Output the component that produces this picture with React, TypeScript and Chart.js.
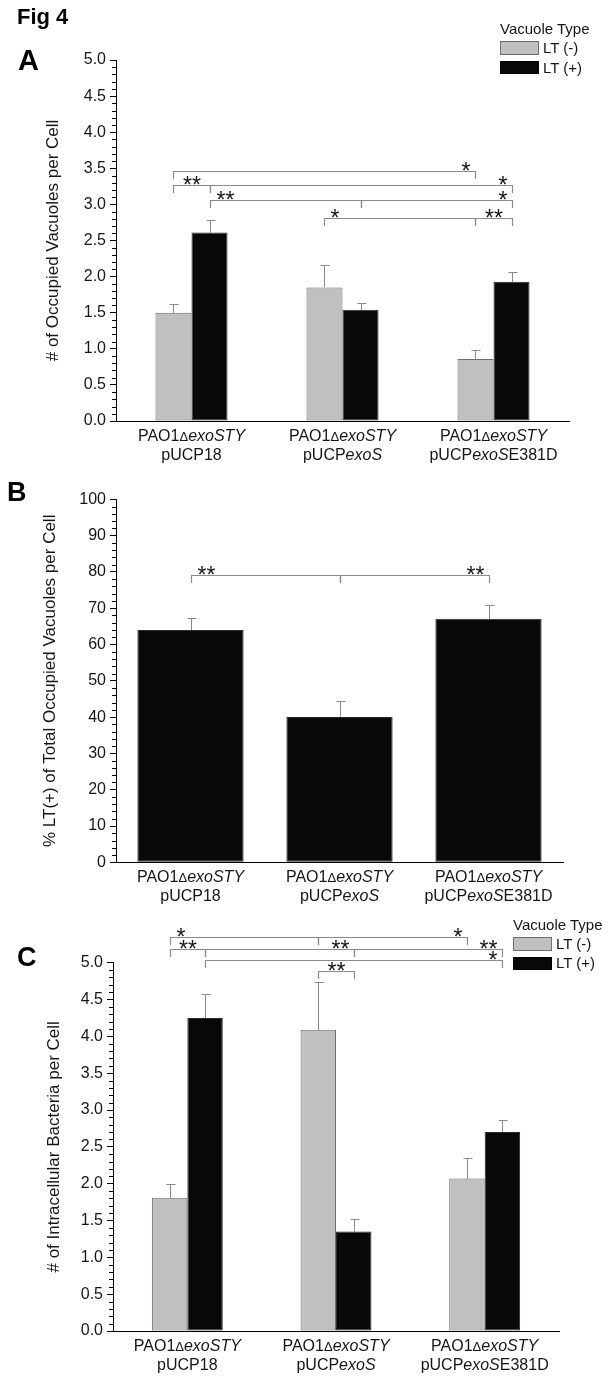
import React, { useEffect, useRef } from 'react';
import { Chart, registerables } from 'chart.js';

Chart.register(...registerables);

const FONT = "'Liberation Sans', Arial, Helvetica, sans-serif";
const INK = '#161616';
const GRAY_FILL = '#c0c0c0';
const GRAY_EDGE = '#6e6e6e';
const BLACK_FILL = '#080808';
const BLACK_EDGE = '#2a2a2a';
const MARK = '#8a8a8a';

// ---------------- data ----------------
const categories = ['PAO1ΔexoSTY pUCP18', 'PAO1ΔexoSTY pUCPexoS', 'PAO1ΔexoSTY pUCPexoSE381D'];
type Seg = [string, boolean];
const labelLine1: Seg[][] = [
  [['PAO1', false], ['Δ', false], ['exoSTY', true]],
  [['PAO1', false], ['Δ', false], ['exoSTY', true]],
  [['PAO1', false], ['Δ', false], ['exoSTY', true]],
];
const labelLine2: Seg[][] = [
  [['pUCP18', false]],
  [['pUCP', false], ['exoS', true]],
  [['pUCP', false], ['exoS', true], ['E381D', false]],
];
const seriesNames = ['LT (-)', 'LT (+)'];
const legendTitle = 'Vacuole Type';

// Panel A: # of occupied vacuoles per cell
const occupiedNeg = [1.5, 1.85, 0.86];
const occupiedNegErr = [0.12, 0.31, 0.12];
const occupiedPos = [2.61, 1.54, 1.93];
const occupiedPosErr = [0.17, 0.1, 0.13];

// Panel B: % LT(+) of total occupied vacuoles
const percentPos = [64.0, 40.0, 67.1];
const percentPosErr = [3.2, 4.3, 3.7];

// Panel C: # of intracellular bacteria per cell
const bacteriaNeg = [1.81, 4.09, 2.07];
const bacteriaNegErr = [0.18, 0.65, 0.28];
const bacteriaPos = [4.25, 1.35, 2.7];
const bacteriaPosErr = [0.33, 0.17, 0.17];

type Side = 'start' | 'end' | 'mid';
interface Bracket { y: number; from: [number, number]; to: [number, number]; label: string; side: Side }

// [category, series]
const bracketsA: Bracket[] = [
  { y: 3.467, from: [0, 0], to: [2, 0], label: '*', side: 'end' },
  { y: 3.269, from: [0, 0], to: [0, 1], label: '**', side: 'mid' },
  { y: 3.269, from: [0, 1], to: [2, 1], label: '*', side: 'end' },
  { y: 3.061, from: [0, 1], to: [1, 1], label: '**', side: 'start' },
  { y: 3.061, from: [1, 1], to: [2, 1], label: '*', side: 'end' },
  { y: 2.812, from: [1, 0], to: [2, 0], label: '*', side: 'start' },
  { y: 2.812, from: [2, 0], to: [2, 1], label: '**', side: 'mid' },
];
const bracketsB: Bracket[] = [
  { y: 79.15, from: [0, 0], to: [1, 0], label: '**', side: 'start' },
  { y: 79.15, from: [1, 0], to: [2, 0], label: '**', side: 'end' },
];
const bracketsC: Bracket[] = [
  { y: 5.353, from: [0, 0], to: [1, 0], label: '*', side: 'start' },
  { y: 5.353, from: [1, 0], to: [2, 0], label: '*', side: 'end' },
  { y: 5.19, from: [0, 0], to: [0, 1], label: '**', side: 'mid' },
  { y: 5.19, from: [0, 1], to: [1, 1], label: '**', side: 'end' },
  { y: 5.19, from: [1, 1], to: [2, 1], label: '**', side: 'end' },
  { y: 5.033, from: [0, 1], to: [2, 1], label: '*', side: 'end' },
  { y: 4.888, from: [1, 0], to: [1, 1], label: '**', side: 'mid' },
];

// ---------------- chart helpers ----------------
interface Series { label: string; values: number[]; errors: number[]; fill: string; edge: string }
interface PanelSpec {
  height: number;
  padding: { left: number; right: number; top: number; bottom: number };
  yWidth: number;
  xHeight: number;
  yMax: number;
  yStep: number;
  minorStep: number;
  decimals: number;
  title: string;
  series: Series[];
  catPct: number;
  brackets: Bracket[];
}

function drawRich(ctx: CanvasRenderingContext2D, parts: Seg[], cx: number, cy: number, size: number) {
  const fonts = parts.map(([t, it]) =>
    t === 'Δ' ? `${Math.round(size * 0.8)}px ${FONT}` : `${it ? 'italic ' : ''}${size}px ${FONT}`
  );
  const widths = parts.map(([t], i) => {
    ctx.font = fonts[i];
    return ctx.measureText(t).width;
  });
  const total = widths.reduce((a, b) => a + b, 0);
  let x = cx - total / 2;
  ctx.textAlign = 'left';
  ctx.textBaseline = 'alphabetic';
  ctx.fillStyle = INK;
  parts.forEach(([t], i) => {
    ctx.font = fonts[i];
    ctx.fillText(t, x, cy + size * 0.358);
    x += widths[i];
  });
}

function makeExtras(spec: PanelSpec) {
  return {
    id: 'extras',
    afterDatasetsDraw(chart: any) {
      const ctx: CanvasRenderingContext2D = chart.ctx;
      const ys = chart.scales.y;
      ctx.save();
      ctx.strokeStyle = MARK;
      ctx.lineWidth = 1;
      spec.series.forEach((s, di) => {
        const meta = chart.getDatasetMeta(di);
        meta.data.forEach((bar: any, i: number) => {
          const x = Math.round(bar.x) + 0.5;
          const yTop = Math.round(ys.getPixelForValue(s.values[i] + s.errors[i])) + 0.5;
          const yBar = Math.round(bar.y);
          ctx.beginPath();
          ctx.moveTo(x, yBar);
          ctx.lineTo(x, yTop);
          ctx.moveTo(x - 4, yTop);
          ctx.lineTo(x + 5, yTop);
          ctx.stroke();
        });
      });
      ctx.restore();
    },
    afterDraw(chart: any) {
      const ctx: CanvasRenderingContext2D = chart.ctx;
      const ys = chart.scales.y;
      const xs = chart.scales.x;
      const area = chart.chartArea;
      ctx.save();
      // minor ticks
      ctx.strokeStyle = '#000';
      ctx.lineWidth = 1;
      const n = Math.round(spec.yMax / spec.minorStep);
      const per = Math.round(spec.yStep / spec.minorStep);
      ctx.beginPath();
      for (let i = 0; i <= n; i++) {
        if (i % per === 0) continue;
        const py = Math.round(ys.getPixelForValue(i * spec.minorStep)) + 0.5;
        ctx.moveTo(area.left - 4, py);
        ctx.lineTo(area.left, py);
      }
      ctx.stroke();
      // significance brackets
      const xOf = (p: [number, number]) => chart.getDatasetMeta(p[1]).data[p[0]].x;
      ctx.strokeStyle = MARK;
      ctx.lineWidth = 1.2;
      ctx.fillStyle = INK;
      ctx.font = `23px ${FONT}`;
      ctx.textBaseline = 'alphabetic';
      spec.brackets.forEach((b) => {
        const x1 = Math.round(xOf(b.from)) + 0.5;
        const x2 = Math.round(xOf(b.to)) + 0.5;
        const py = Math.round(ys.getPixelForValue(b.y)) + 0.5;
        ctx.beginPath();
        ctx.moveTo(x1, py + 7.5);
        ctx.lineTo(x1, py);
        ctx.lineTo(x2, py);
        ctx.lineTo(x2, py + 7.5);
        ctx.stroke();
        let tx = (x1 + x2) / 2;
        let align: CanvasTextAlign = 'center';
        if (b.side === 'start') { tx = x1 + 6; align = 'left'; }
        if (b.side === 'end') { tx = x2 - 5; align = 'right'; }
        ctx.textAlign = align;
        ctx.fillText(b.label, tx, py + 7.5);
      });
      // category labels with italic gene names
      categories.forEach((_, i) => {
        const cx = xs.getPixelForValue(i);
        drawRich(ctx, labelLine1[i], cx, area.bottom + 14, 16);
        drawRich(ctx, labelLine2[i], cx, area.bottom + 33, 16);
      });
      ctx.restore();
    },
  };
}

function buildConfig(spec: PanelSpec): any {
  return {
    type: 'bar',
    data: {
      labels: categories,
      datasets: spec.series.map((s) => ({
        label: s.label,
        data: s.values,
        backgroundColor: s.fill,
        borderColor: s.edge,
        borderWidth: 1,
        borderSkipped: false,
        categoryPercentage: spec.catPct,
        barPercentage: 1,
      })),
    },
    options: {
      responsive: false,
      animation: false,
      events: [],
      layout: { padding: spec.padding },
      plugins: { legend: { display: false }, tooltip: { enabled: false } },
      scales: {
        x: {
          grid: { display: false },
          border: { display: true, color: '#000', width: 1 },
          ticks: { display: false },
          afterFit: (s: any) => { s.height = spec.xHeight; },
        },
        y: {
          min: 0,
          max: spec.yMax,
          ticks: {
            stepSize: spec.yStep,
            autoSkip: false,
            padding: 4,
            color: INK,
            font: { family: FONT, size: 16 },
            callback: (v: number) => Number(v).toFixed(spec.decimals),
          },
          grid: { drawOnChartArea: false, tickLength: 6, tickColor: '#000', color: '#000' },
          border: { display: true, color: '#000', width: 1 },
          title: { display: true, text: spec.title, color: INK, padding: 0, font: { family: FONT, size: 17 } },
          afterFit: (s: any) => { s.width = spec.yWidth; },
        },
      },
    },
    plugins: [makeExtras(spec)],
  };
}

const specA: PanelSpec = {
  height: 470,
  padding: { left: 43, right: 45, top: 60, bottom: 0 },
  yWidth: 73,
  xHeight: 49,
  yMax: 5,
  yStep: 0.5,
  minorStep: 0.1,
  decimals: 1,
  title: '# of Occupied Vacuoles per Cell',
  catPct: 0.477,
  series: [
    { label: seriesNames[0], values: occupiedNeg, errors: occupiedNegErr, fill: GRAY_FILL, edge: GRAY_EDGE },
    { label: seriesNames[1], values: occupiedPos, errors: occupiedPosErr, fill: BLACK_FILL, edge: BLACK_EDGE },
  ],
  brackets: bracketsA,
};

const specB: PanelSpec = {
  height: 440,
  padding: { left: 40, right: 51, top: 29.3, bottom: 0 },
  yWidth: 76,
  xHeight: 47.7,
  yMax: 100,
  yStep: 10,
  minorStep: 2,
  decimals: 0,
  title: '% LT(+) of Total Occupied Vacuoles per Cell',
  catPct: 0.713,
  series: [
    { label: seriesNames[1], values: percentPos, errors: percentPosErr, fill: BLACK_FILL, edge: BLACK_EDGE },
  ],
  brackets: bracketsB,
};

const specC: PanelSpec = {
  height: 468,
  padding: { left: 44, right: 55, top: 52.7, bottom: 0 },
  yWidth: 69,
  xHeight: 47,
  yMax: 5,
  yStep: 0.5,
  minorStep: 0.1,
  decimals: 1,
  title: '# of Intracellular Bacteria per Cell',
  catPct: 0.477,
  series: [
    { label: seriesNames[0], values: bacteriaNeg, errors: bacteriaNegErr, fill: GRAY_FILL, edge: GRAY_EDGE },
    { label: seriesNames[1], values: bacteriaPos, errors: bacteriaPosErr, fill: BLACK_FILL, edge: BLACK_EDGE },
  ],
  brackets: bracketsC,
};

function Panel({ spec, top }: { spec: PanelSpec; top: number }) {
  const ref = useRef<HTMLCanvasElement>(null);
  useEffect(() => {
    const chart = new Chart(ref.current as HTMLCanvasElement, buildConfig(spec));
    return () => chart.destroy();
  }, [spec]);
  return (
    <div style={{ position: 'absolute', left: 0, top, width: 614, height: spec.height }}>
      <canvas ref={ref} width={614} height={spec.height} />
    </div>
  );
}

function Legend({ left, cy }: { left: number; cy: number }) {
  const fills = [GRAY_FILL, BLACK_FILL];
  const edges = [GRAY_EDGE, '#000'];
  const txt: React.CSSProperties = { position: 'absolute', fontSize: 15, lineHeight: '18px', whiteSpace: 'nowrap', color: INK };
  return (
    <>
      <div style={{ ...txt, left, top: cy - 9 }}>{legendTitle}</div>
      {seriesNames.map((name, i) => (
        <React.Fragment key={name}>
          <div
            style={{
              position: 'absolute', left, top: cy + 12 + i * 19.5, width: 39, height: 13.5,
              boxSizing: 'border-box', background: fills[i], border: `1px solid ${edges[i]}`,
            }}
          />
          <div style={{ ...txt, left: left + 43, top: cy + 18.7 + i * 19.5 - 9 }}>{name}</div>
        </React.Fragment>
      ))}
    </>
  );
}

function Letter({ text, left, capTop, size }: { text: string; left: number; capTop: number; size: number }) {
  return (
    <div
      style={{
        position: 'absolute', left, top: capTop - 0.13 * size, fontSize: size, lineHeight: `${size}px`,
        fontWeight: 'bold', color: '#000', whiteSpace: 'nowrap',
      }}
    >
      {text}
    </div>
  );
}

export default function App() {
  return (
    <div style={{ position: 'absolute', left: 0, top: 0, width: 614, height: 1378, background: '#fff', fontFamily: FONT, overflow: 'hidden' }}>
      <Panel spec={specA} top={0} />
      <Panel spec={specB} top={470} />
      <Panel spec={specC} top={910} />
      <Letter text="Fig 4" left={17} capTop={8.5} size={22} />
      <Letter text="A" left={18} capTop={50} size={29} />
      <Letter text="B" left={7} capTop={483} size={27} />
      <Letter text="C" left={17} capTop={948} size={27} />
      <Legend left={500} cy={29.3} />
      <Legend left={513} cy={925} />
    </div>
  );
}
